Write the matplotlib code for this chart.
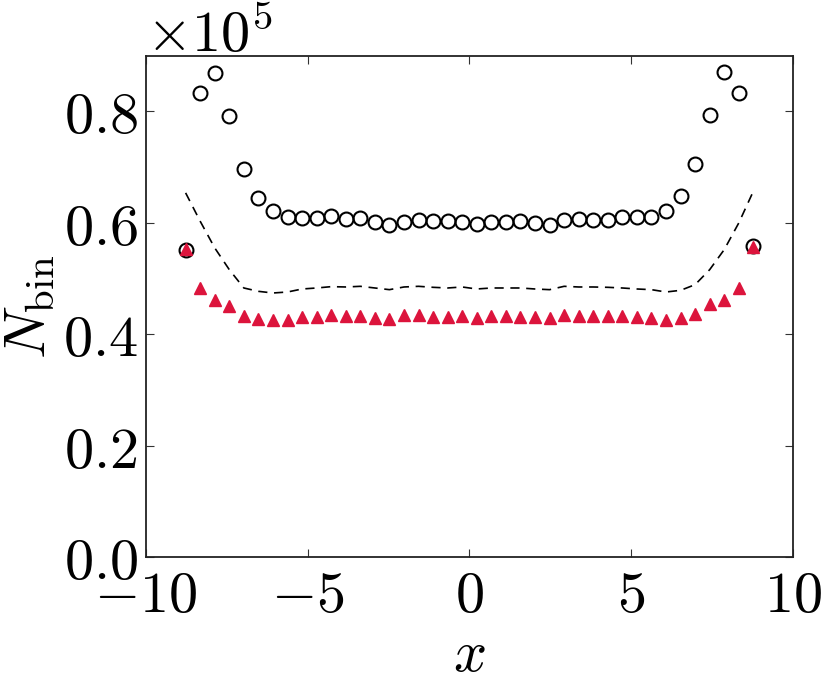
import numpy as np
import matplotlib
matplotlib.use('Agg')
import matplotlib.pyplot as plt
from matplotlib.ticker import FuncFormatter

plt.rcParams['mathtext.fontset'] = 'cm'
plt.rcParams['font.family'] = 'serif'
plt.rcParams['font.serif'] = ['DejaVu Serif']

# bin centres (bin width 0.45 between -9 and 9)
x = np.arange(-8.775, 8.8, 0.45)

# counts, in units of 1e5
circles = [0.5505, 0.833, 0.8685, 0.7906, 0.697, 0.6445, 0.621, 0.6104, 0.609, 0.608,
           0.6115, 0.6068, 0.608, 0.602, 0.5966, 0.602, 0.6056, 0.6038, 0.603, 0.6008,
           0.5984, 0.6008, 0.601, 0.6038, 0.5996, 0.5966, 0.6056, 0.6068, 0.605, 0.605,
           0.6104, 0.6104, 0.6104, 0.621, 0.6487, 0.706, 0.7925, 0.8697, 0.833, 0.5588]
triangles = [0.553, 0.483, 0.4618, 0.451, 0.433, 0.427, 0.4247, 0.426, 0.430, 0.431,
             0.435, 0.432, 0.433, 0.429, 0.4277, 0.435, 0.435, 0.431, 0.431, 0.432,
             0.4295, 0.432, 0.433, 0.431, 0.431, 0.429, 0.434, 0.433, 0.432, 0.432,
             0.432, 0.431, 0.429, 0.426, 0.4295, 0.4366, 0.454, 0.4618, 0.482, 0.5565]
dashed = [0.6535, 0.6026, 0.5547, 0.5157, 0.4828, 0.4768, 0.4738, 0.4756, 0.481, 0.4828,
          0.4852, 0.4846, 0.4858, 0.4828, 0.4798, 0.4846, 0.4858, 0.484, 0.4828, 0.4846,
          0.481, 0.4828, 0.4828, 0.4828, 0.481, 0.4798, 0.4858, 0.4846, 0.4846, 0.484,
          0.4828, 0.481, 0.4798, 0.4756, 0.4786, 0.4888, 0.5157, 0.5517, 0.5996, 0.6565]

scale = 1e5
circles = np.array(circles) * scale
triangles = np.array(triangles) * scale
dashed = np.array(dashed) * scale

fig = plt.figure(figsize=(8.3, 6.88), dpi=100)
ax = fig.add_axes([0.1759, 0.1904, 0.7795, 0.7289])

ax.plot(x, dashed, color='k', lw=1.2, dashes=(5.5, 4))
ax.plot(x, circles, 'o', ms=10, mfc='none', mec='k', mew=1.5)
ax.plot(x, triangles, '^', ms=8.5, color='crimson', mec='crimson')

ax.set_xlim(-10, 10)
ax.set_ylim(0, 0.9e5)
ax.set_xticks([-10, -5, 0, 5, 10])
ax.set_yticks([0, 0.2e5, 0.4e5, 0.6e5, 0.8e5])
ax.xaxis.set_major_formatter(FuncFormatter(lambda v, p: r'$%g$' % v))
ax.yaxis.set_major_formatter(FuncFormatter(lambda v, p: r'$%.1f$' % (v / scale)))

ax.tick_params(direction='in', length=6, width=0.8, top=True, right=True,
               labelsize=42, color='#333333')
ax.tick_params(axis='x', pad=8)
ax.tick_params(axis='y', pad=6)
for s in ax.spines.values():
    s.set_linewidth(1.3)
    s.set_color('#222222')

# offset multiplier above the top-left corner
ax.text(0.0, 1.008, r'$\times10^{5}$', transform=ax.transAxes,
        fontsize=42, ha='left', va='baseline')

ax.set_xlabel(r'$x$', fontsize=42, labelpad=2)
ax.set_ylabel(r'$N_{\rm bin}$', fontsize=42, labelpad=4)

fig.savefig('out.png', dpi=100)
